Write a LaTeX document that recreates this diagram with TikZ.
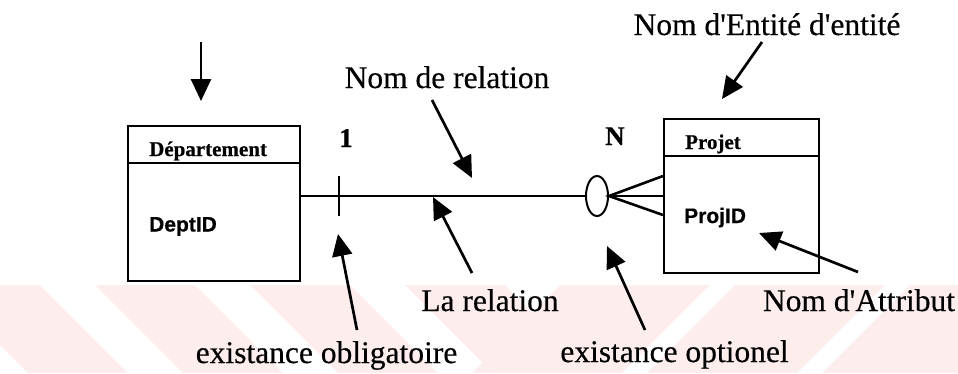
\documentclass[tikz,border=0pt]{standalone}
\usepackage{fontspec}
\setmainfont{Liberation Serif}
\newfontfamily\lblfont{Liberation Serif}[FakeBold=0.4]
\newfontfamily\ttlfont{Liberation Serif}[BoldFeatures={FakeBold=0.6}]
\newfontfamily\arialf{Liberation Sans}[BoldFeatures={FakeBold=0.5}]
\usetikzlibrary{arrows.meta,shapes.geometric,calc}
\definecolor{wm}{RGB}{253,237,237}
\newcommand\q{\textquotesingle}
\tikzset{
  lbl/.style={font=\lblfont\fontsize{31.5}{36}\selectfont, anchor=base, inner sep=0pt},
  card/.style={font=\ttlfont\fontsize{27}{30}\selectfont\bfseries, anchor=base, inner sep=0pt},
  ttl/.style={font=\ttlfont\fontsize{21}{24}\selectfont\bfseries, anchor=base west, inner sep=0pt},
  attr/.style={font=\arialf\fontsize{21}{24}\selectfont\bfseries, anchor=base west, inner sep=0pt},
  entbox/.style={draw, line width=2pt, anchor=north west, inner sep=0pt},
  ptr/.style={line width=2.7pt, -{Triangle[length=22pt,width=20pt]}},
  rel/.style={line width=2pt},
}
\begin{document}
\begin{tikzpicture}[x=1pt,y=-1pt]
\useasboundingbox (0,0) rectangle (958,373);
% watermark stripes
\begin{scope}
\clip (0,285) rectangle (958,373);
\foreach \s in {-60,95,250,405} {
  \fill[wm] (\s,285) -- (\s+100,285) -- (\s+188,373) -- (\s+88,373) -- cycle;
}
\foreach \s in {560,735,910,1085} {
  \fill[wm] (\s,285) -- (\s+150,285) -- (\s+62,373) -- (\s-88,373) -- cycle;
}
\end{scope}
% entity boxes
\node[entbox, minimum width=172pt, minimum height=155pt] (dept) at (127,125) {};
\node[entbox, minimum width=155pt, minimum height=154pt] (proj) at (663,118) {};
\draw[line width=2pt] ($(dept.north west)+(0,38)$) -- ($(dept.north east)+(0,38)$);
\draw[line width=2pt] ($(proj.north west)+(0,38)$) -- ($(proj.north east)+(0,38)$);
\node[ttl] (dt) at (149,156) {Département};
\node[attr] (da) at (149,231.5) {DeptID};
\node[ttl] (pt) at (685,149) {Projet};
\node[attr] (pa) at (684,223) {ProjID};
% relationship
\node[draw, ellipse, line width=2pt, minimum width=22pt, minimum height=40pt, inner sep=0pt] (opt) at (597,196) {};
\coordinate (dl) at (dept.east |- opt.west);
\draw[rel] (dl) -- (opt.west);
\draw[rel] ($(dl)+(38,-20)$) -- ($(dl)+(38,20)$);
\coordinate (ft) at (663,176);
\coordinate (fm) at (663,196);
\coordinate (fb) at (663,215);
\draw[line width=2.6pt] (ft) -- (opt.east) -- (fb);
\draw[line width=2.6pt] (opt.east) -- (fm);
\node[card] (one) at (346,147) {1};
\node[card] (nn) at (615,145) {N};
% labels
\node[lbl] (ent) at (767,35) {Nom d\q Entité d\q entité};
\node[lbl] (nr) at (447,88) {Nom de relation};
\node[lbl] (lr) at (490,311) {La relation};
\node[lbl] (na) at (859,311) {Nom d\q Attribut};
\node[lbl] (eo) at (326.5,363) {existance obligatoire};
\node[lbl] (eop) at (674.5,362) {existance optionel};
% pointer arrows
\coordinate (a1s) at (201,42);   \coordinate (a1e) at (201,101);
\coordinate (a2s) at (762,42);   \coordinate (a2e) at (722,99);
\coordinate (a3s) at (432,100);  \coordinate (a3e) at (472,178);
\coordinate (a4s) at (472,273);  \coordinate (a4e) at (433,197);
\coordinate (a5s) at (357,330);  \coordinate (a5e) at (338,234);
\coordinate (a6s) at (645,330);  \coordinate (a6e) at (607,246);
\coordinate (a7s) at (858,272);  \coordinate (a7e) at (759,233);
\draw[ptr] (a1s) -- (a1e);
\draw[ptr] (a2s) -- (a2e);
\draw[ptr] (a3s) -- (a3e);
\draw[ptr] (a4s) -- (a4e);
\draw[ptr] (a5s) -- (a5e);
\draw[ptr] (a6s) -- (a6e);
\draw[ptr] (a7s) -- (a7e);
\end{tikzpicture}
\end{document}
